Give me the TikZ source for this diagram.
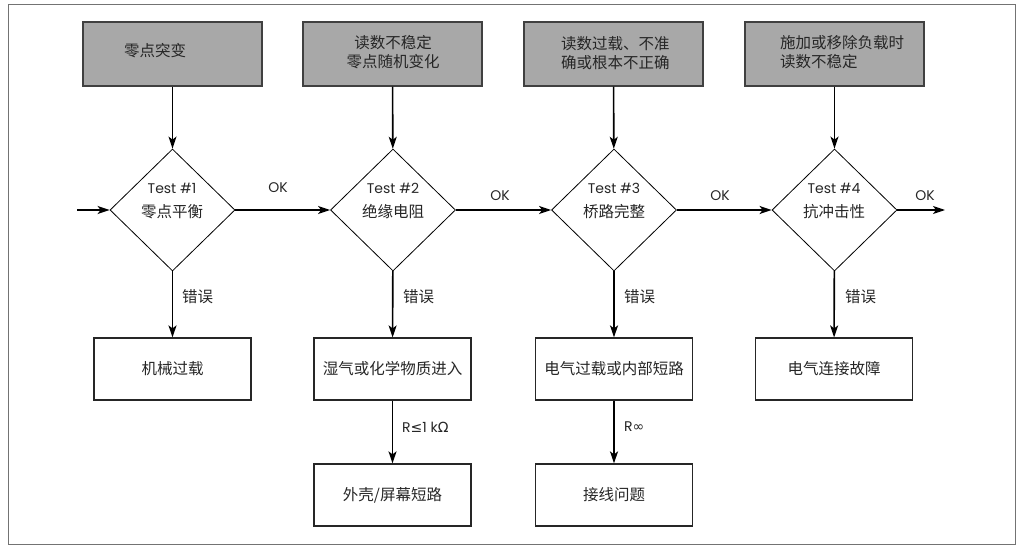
\documentclass[tikz,border=0pt]{standalone}
\usepackage{fontspec}
\setmainfont{Poppins}
\newfontfamily\cjk{Noto Sans CJK SC}
\newfontfamily\symf{DejaVu Sans}
\usetikzlibrary{shapes.geometric,arrows.meta}
\definecolor{boxgray}{RGB}{168,168,168}
\tikzset{
 cause/.style={draw=black!75, line width=1.2pt, fill=boxgray, minimum width=179pt, minimum height=64pt, inner sep=0},
 test/.style={draw=black, line width=0.8pt, diamond, minimum width=125pt, minimum height=122pt, inner sep=0},
 fault/.style={draw=black!85, line width=1.2pt, minimum width=157pt, minimum height=62pt, inner sep=0, font=\cjk\fontsize{15.5}{19}\selectfont, text=black!85},
 conn/.style={line width=1.6pt, -{Stealth[length=12pt,width=8pt,inset=3pt]}},
 lab/.style={font=\fontsize{14}{16}\selectfont, inner sep=0, text=black!85},
 zh/.style={font=\cjk\fontsize{15.5}{19.5}\selectfont, inner sep=0, text=black!85},
}
\begin{document}
\begin{tikzpicture}[x=1pt,y=-1pt]
\useasboundingbox (0,0) rectangle (1024,553);
\draw[black!55, line width=1pt] (8,5) rectangle (1015,544);
% cause boxes
\node[cause] (c1) at (172.5,54) {};
\node[cause] (c2) at (392.5,54) {};
\node[cause] (c3) at (613.5,54) {};
\node[cause] (c4) at (834.5,54) {};
\node[zh] (c1t) at (155,51) {零点突变};
\node[zh, align=center] (c2t) at (393,52) {读数不稳定\\零点随机变化};
\node[zh, align=left, anchor=west] (c3t) at (561,53) {读数过载、不准\\确或根本不正确};
\node[zh, align=left, anchor=west] (c4t) at (780,52) {施加或移除负载时\\读数不稳定};
% tests
\node[test] (d1) at (172.5,210) {};
\node[test] (d2) at (393,210) {};
\node[test] (d3) at (614,210) {};
\node[test] (d4) at (834.5,210) {};
\node[lab] (d1a) at (172,188) {Test \#1};
\node[zh] (d1b) at (172,212) {零点平衡};
\node[lab] (d2a) at (393,188) {Test \#2};
\node[zh] (d2b) at (393,212) {绝缘电阻};
\node[lab] (d3a) at (614,188) {Test \#3};
\node[zh] (d3b) at (614,212) {桥路完整};
\node[lab] (d4a) at (834,188) {Test \#4};
\node[zh] (d4b) at (834,212) {抗冲击性};
% faults
\node[fault] (f1) at (172.5,369) {机械过载};
\node[fault] (f2) at (392.5,369) {湿气或化学物质进入};
\node[fault] (f3) at (614,369) {电气过载或内部短路};
\node[fault] (f4) at (834,369) {电气连接故障};
\node[fault] (g2) at (392.5,495) {外壳/屏幕短路};
\node[fault] (g3) at (614,495) {接线问题};
% connectors
\coordinate (in) at (77,210);
\coordinate (out) at (945,210);
\draw[conn] (c1) -- (d1);
\draw[conn] (c2) -- (d2);
\draw[conn] (c3) -- (d3);
\draw[conn] (c4) -- (d4);
\draw[conn] (in) -- (d1);
\draw[conn] (d1) -- (d2);
\draw[conn] (d2) -- (d3);
\draw[conn] (d3) -- (d4);
\draw[conn] (d4) -- (out);
\draw[conn] (d1) -- (f1);
\draw[conn] (d2) -- (f2);
\draw[conn] (d3) -- (f3);
\draw[conn] (d4) -- (f4);
\draw[conn] (f2) -- (g2);
\draw[conn] (f3) -- (g3);
% labels
\node[lab] (ok1) at (278,188) {OK};
\node[lab] (ok2) at (500,196) {OK};
\node[lab] (ok3) at (720,196) {OK};
\node[lab] (ok4) at (925,196) {OK};
\node[zh, anchor=west] (e1) at (182,297) {错误};
\node[zh, anchor=west] (e2) at (403,297) {错误};
\node[zh, anchor=west] (e3) at (624,297) {错误};
\node[zh, anchor=west] (e4) at (845,297) {错误};
\node[lab, anchor=west] (r1) at (402,427) {R{\symf ≤}1 k{\symf Ω}};
\node[lab, anchor=west] (r2) at (624,427) {R{\symf ∞}};
\end{tikzpicture}
\end{document}
